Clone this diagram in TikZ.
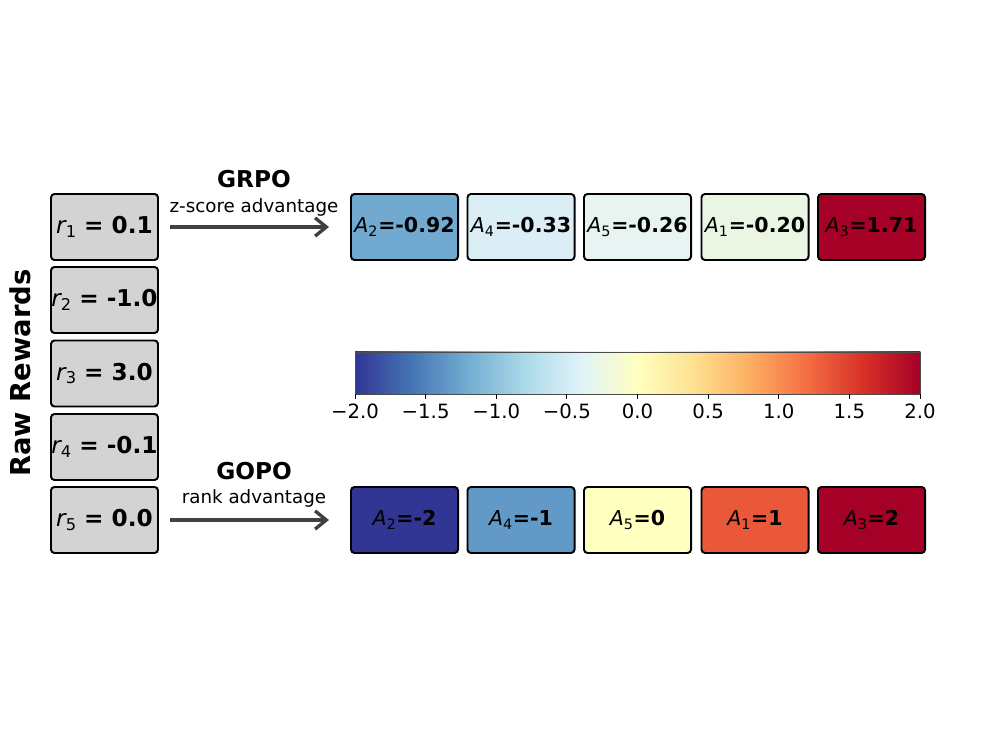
\documentclass[tikz,border=0pt]{standalone}
\usepackage{fontspec}
\setmainfont{DejaVu Sans}
\usetikzlibrary{positioning,calc,arrows.meta}

\definecolor{rewgray}{RGB}{211,211,211}
\definecolor{arrgray}{RGB}{64,64,64}
\definecolor{cA}{HTML}{313695}
\definecolor{cB}{HTML}{4575B4}
\definecolor{cC}{HTML}{74ADD1}
\definecolor{cD}{HTML}{ABD9E9}
\definecolor{cE}{HTML}{E0F3F8}
\definecolor{cF}{HTML}{FFFFBF}
\definecolor{cG}{HTML}{FEE090}
\definecolor{cH}{HTML}{FDAE61}
\definecolor{cI}{HTML}{F46D43}
\definecolor{cJ}{HTML}{D73027}
\definecolor{cK}{HTML}{A50026}
\definecolor{gAtwo}{RGB}{114,169,208}
\definecolor{gAfour}{RGB}{219,238,245}
\definecolor{gAfive}{RGB}{231,244,241}
\definecolor{gAone}{RGB}{235,245,228}
\definecolor{oAfour}{RGB}{99,153,199}
\definecolor{oAone}{RGB}{234,88,58}

\newcommand{\rv}[2]{{\itshape r}\textsubscript{#1} \textbf{= #2}}
\newcommand{\av}[2]{{\itshape A}\textsubscript{#1}\textbf{=#2}}

\begin{document}
\begin{tikzpicture}[x=0.025cm,y=-0.025cm,
   rew/.style={rectangle,rounded corners=2.5pt,draw=black,line width=1.4pt,fill=rewgray,
      minimum width=2.675cm,minimum height=1.65cm,inner sep=0pt,font=\fontsize{16.5}{19}\selectfont},
   adv/.style={rew,font=\fontsize{14.6}{17}\selectfont},
   flow/.style={draw=arrgray,line width=2.4pt,-{Straight Barb[length=8pt,width=13pt]}},
   meth/.style={font=\fontsize{16.5}{19}\selectfont\bfseries,inner sep=0pt},
   sub/.style={font=\fontsize{13}{15}\selectfont,inner sep=0pt},
   tick/.style={font=\fontsize{14}{16}\selectfont,inner sep=0pt}]
   \useasboundingbox (0,0) rectangle (996,748);

   % raw rewards
   \path (104.5,227) node (r1) [rew] {\rv{1}{0.1}}
         (104.5,300) node (r2) [rew] {\rv{2}{-1.0}}
         (104.5,373.5) node (r3) [rew] {\rv{3}{3.0}}
         (104.5,447) node (r4) [rew] {\rv{4}{-0.1}}
         (104.5,520) node (r5) [rew] {\rv{5}{0.0}};
   \node (rawlbl) [rotate=90,font=\fontsize{19.5}{22}\selectfont\bfseries] at (20,373) {Raw Rewards};

   % GRPO row
   \path (404.5,227) node (ga2) [adv,fill=gAtwo] {\av{2}{-0.92}}
         (521,227)   node (ga4) [adv,fill=gAfour] {\av{4}{-0.33}}
         (637.5,227) node (ga5) [adv,fill=gAfive] {\av{5}{-0.26}}
         (755,227)   node (ga1) [adv,fill=gAone] {\av{1}{-0.20}}
         (871.5,227) node (ga3) [adv,fill=cK] {\av{3}{1.71}};
   \draw [flow] ([xshift=0.275cm]r1.east) -- ([xshift=-0.525cm]ga2.west);
   \node (grpo) [meth] at (254,179) {GRPO};
   \node (zscore) [sub] at (254,207) {z-score advantage};

   % GOPO row
   \path (404.5,520) node (oa2) [adv,fill=cA] {\av{2}{-2}}
         (521,520)   node (oa4) [adv,fill=oAfour] {\av{4}{-1}}
         (637.5,520) node (oa5) [adv,fill=cF] {\av{5}{0}}
         (755,520)   node (oa1) [adv,fill=oAone] {\av{1}{1}}
         (871.5,520) node (oa3) [adv,fill=cK] {\av{3}{2}};
   \draw [flow] ([xshift=0.275cm]r5.east) -- ([xshift=-0.525cm]oa2.west);
   \node (gopo) [meth] at (254,471) {GOPO};
   \node (rank) [sub] at (254,498) {rank advantage};

   % colour bar
   \foreach \a/\b [count=\i from 0] in {cA/cB,cB/cC,cC/cD,cD/cE,cE/cF,cF/cG,cG/cH,cH/cI,cI/cJ,cJ/cK}
      \shade [left color=\a,right color=\b] ({355+56.5*\i},352) rectangle ({355+56.5*(\i+1)+0.4},394);
   \draw [black!70,line width=0.6pt] (355,352) rectangle (920,394);
   \foreach \t [count=\i from 0] in {−2.0,−1.5,−1.0,−0.5,0.0,0.5,1.0,1.5,2.0} {
      \draw [line width=0.6pt] ({355+70.625*\i},394) -- ++(0,5);
      \node [tick,anchor=north] at ({355+70.625*\i},404) {\t};
   }
\end{tikzpicture}
\end{document}
